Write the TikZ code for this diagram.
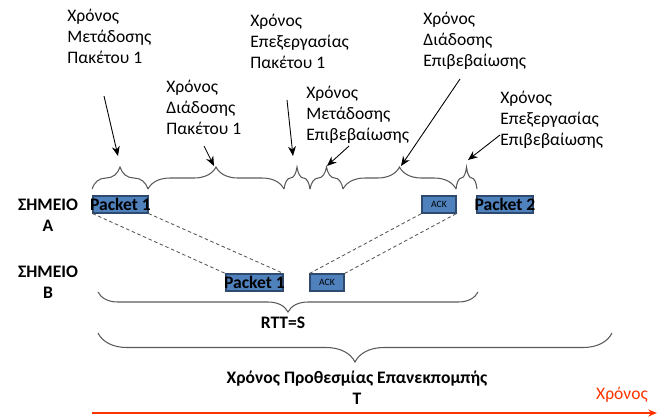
\documentclass[tikz,border=0pt]{standalone}
\usepackage{fontspec}
\setmainfont{Carlito}
\usetikzlibrary{decorations.pathreplacing,arrows.meta}
\definecolor{pktblue}{HTML}{4F81BD}
\definecolor{pktedge}{HTML}{2E4A6E}
\definecolor{bracegray}{HTML}{5A5A5A}
\definecolor{timered}{HTML}{FF3300}
\tikzset{
    lbl/.style={inner sep=0,align=left,anchor=west,font=\labelfontsize},
    hdr/.style={inner sep=0,align=center,font=\labelfontsize\bfseries},
    pkt/.style={draw=pktedge,fill=pktblue,inner sep=0,minimum height=0.34cm,line width=0.6pt},
    brc/.style={draw=bracegray,line width=0.6pt,decorate,decoration={brace,amplitude=#1}},
    pnt/.style={-{Stealth[length=5.5pt,width=4.5pt]},line width=0.5pt},
    trace/.style={draw=bracegray,line width=0.5pt,dash pattern=on 2pt off 1.5pt},
}

\begin{document}
\begin{tikzpicture}[x=0.02cm,y=-0.02cm]
    \providecommand{\labelfontsize}{\fontsize{10pt}{12pt}\selectfont}
    \providecommand{\ackfontsize}{\fontsize{5.5pt}{6pt}\selectfont}
    \useasboundingbox (0,0) rectangle (658,417);

    % labels over the braces
    \node[lbl] (txpkt) at (67,36) {Χρόνος\\Μετάδοσης\\Πακέτου 1};
    \node[lbl] (prpkt) at (166,107) {Χρόνος\\Διάδοσης\\Πακέτου 1};
    \node[lbl] (pcpkt) at (250,41) {Χρόνος\\Επεξεργασίας\\Πακέτου 1};
    \node[lbl] (txack) at (306,115) {Χρόνος\\Μετάδοσης\\Επιβεβαίωσης};
    \node[lbl] (prack) at (423,41) {Χρόνος\\Διάδοσης\\Επιβεβαίωσης};
    \node[lbl] (pcack) at (500,120) {Χρόνος\\Επεξεργασίας\\Επιβεβαίωσης};

    \coordinate (s1) at (104,96);  \coordinate (e1) at (118,156);
    \coordinate (s2) at (204,146); \coordinate (e2) at (214,166);
    \coordinate (s3) at (287,100); \coordinate (e3) at (293,156);
    \coordinate (s4) at (349,146); \coordinate (e4) at (327,166);
    \coordinate (s5) at (460,79);  \coordinate (e5) at (401,166);
    \coordinate (s6) at (500,135); \coordinate (e6) at (468,160);
    \foreach \i in {1,...,6}
        \draw[pnt] (s\i) -- (e\i);

    \draw[brc=0.44cm] (92,189) -- (148,189);
    \draw[brc=0.44cm] (148,189) -- (284,189);
    \draw[brc=0.44cm] (284,189) -- (310,189);
    \draw[brc=0.44cm] (310,189) -- (343,189);
    \draw[brc=0.44cm] (343,189) -- (456,189);
    \draw[brc=0.44cm] (456,189) -- (477,189);

    \node[hdr] (ptA) at (48,215) {ΣΗΜΕΙΟ\\Α};
    \node[hdr] (ptB) at (48,282) {ΣΗΜΕΙΟ\\Β};

    \node[pkt,minimum width=1.1cm] (pktA) at (120.5,204.5) {\makebox[0pt]{\labelfontsize\bfseries Packet 1}};
    \node[pkt,minimum width=0.68cm] (ackA) at (439,204.5) {\ackfontsize ACK};
    \node[pkt,minimum width=1.12cm] (pkt2) at (505,204.5) {\makebox[0pt]{\labelfontsize\bfseries Packet 2}};
    \node[pkt,minimum width=1.14cm] (pktB) at (254.5,282.5) {\makebox[0pt]{\labelfontsize\bfseries Packet 1}};
    \node[pkt,minimum width=0.68cm] (ackB) at (327,282.5) {\ackfontsize ACK};

    \draw[trace] (pktA.south west) -- (pktB.north west);
    \draw[trace] (pktA.south east) -- (pktB.north east);
    \draw[trace] (ackB.north west) -- (ackA.south west);
    \draw[trace] (ackB.north east) -- (ackA.south east);

    \draw[brc=0.4cm] (478,292) -- (98,292);
    \node[hdr] (rtt) at (283,323) {RTT=S};
    \draw[brc=0.58cm] (612,333) -- (98,333);
    \node[hdr] (rto) at (357,388) {Χρόνος Προθεσμίας Επανεκπομπής\\T};

    \coordinate (t0) at (92,413);
    \coordinate (t1) at (657,413);
    \draw[timered,line width=1.3pt,-{Stealth[length=5pt,width=4pt]}] (t0) -- (t1);
    \node[inner sep=0,text=timered,font=\labelfontsize] (tlbl) at (622,395) {Χρόνος};
\end{tikzpicture}
\end{document}
